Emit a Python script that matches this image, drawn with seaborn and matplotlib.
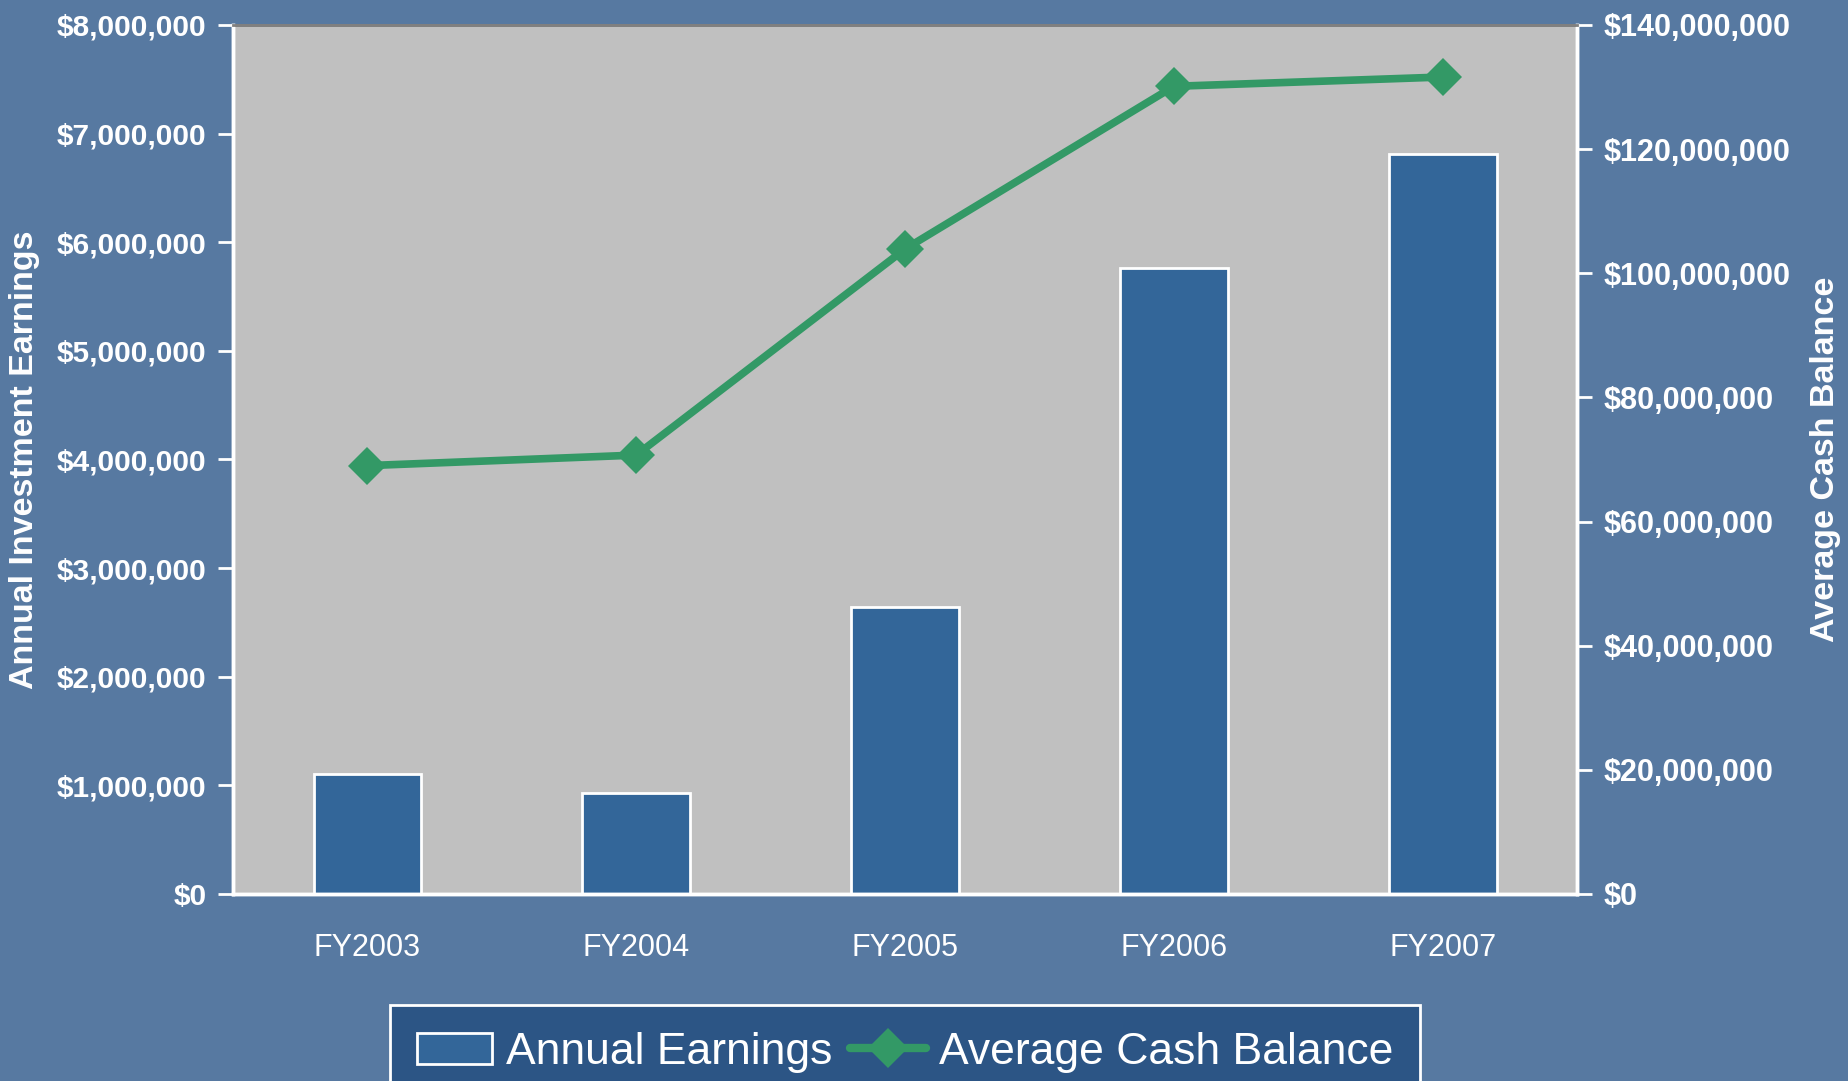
import matplotlib
matplotlib.use("Agg")
import matplotlib.pyplot as plt
import matplotlib.ticker as mticker
from matplotlib.lines import Line2D
from matplotlib.patches import Patch
import seaborn as sns
import pandas as pd

# === Data ===
years = ["FY2003", "FY2004", "FY2005", "FY2006", "FY2007"]
annual_earnings = [1100000, 925000, 2640000, 5760000, 6810000]
avg_cash_balance = [69000000, 70700000, 103900000, 130100000, 131600000]

df = pd.DataFrame({"year": years, "earnings": annual_earnings, "cash": avg_cash_balance})

# === Colours ===
bg = "#5779a1"
plot_bg = "#c0c0c0"
bar_blue = "#336699"
line_green = "#339966"
legend_bg = "#2c5585"

sns.set_theme(style="white")
plt.rcParams["font.family"] = ["Liberation Sans", "DejaVu Sans"]

fig = plt.figure(figsize=(18.49, 10.81), dpi=100, facecolor=bg)
ax = fig.add_axes([0.126, 0.173, 0.727, 0.804])
ax.set_facecolor(plot_bg)

sns.barplot(data=df, x="year", y="earnings", ax=ax, color=bar_blue,
            saturation=1, width=0.4, edgecolor="white", linewidth=2)

ax2 = ax.twinx()
sns.lineplot(data=df, x="year", y="cash", ax=ax2, color=line_green,
             linewidth=5.5, marker="D", markersize=19, markeredgewidth=0)

# === Axes ===
ax.set_xlim(-0.5, 4.5)
ax.set_ylim(0, 8000000)
ax2.set_ylim(0, 140000000)
ax.yaxis.set_major_locator(mticker.MultipleLocator(1000000))
ax2.yaxis.set_major_locator(mticker.MultipleLocator(20000000))
fmt = mticker.FuncFormatter(lambda v, p: f"${v:,.0f}")
ax.yaxis.set_major_formatter(fmt)
ax2.yaxis.set_major_formatter(fmt)

ax.set_xticks([i - 0.5 for i in range(len(years) + 1)], minor=False)
ax.set_xticklabels([])
ax.set_xticks(range(len(years)), minor=True)
ax.set_xticklabels(years, minor=True)
ax.tick_params(axis="x", which="major", direction="inout", length=22, width=2, colors="white")
ax.tick_params(axis="x", which="minor", length=0, pad=28, labelsize=22, labelcolor="white")

ax.tick_params(axis="y", direction="out", length=11, width=2, colors="white",
               labelsize=21.5, pad=8, left=True)
ax2.tick_params(axis="y", direction="out", length=11, width=2, colors="white",
                labelsize=22, pad=8, right=True)
for lab in ax.get_yticklabels() + ax2.get_yticklabels():
    lab.set_fontweight("bold")

ax.set_xlabel("")
ax.set_ylabel("Annual Investment Earnings", color="white", fontsize=24.5,
              fontweight="bold", labelpad=12)
ax2.set_ylabel("Average Cash Balance", color="white", fontsize=24.5,
               fontweight="bold", labelpad=14)

for a in (ax, ax2):
    for side in ("left", "right", "bottom"):
        a.spines[side].set_color("white")
        a.spines[side].set_linewidth(2.5)
    a.spines["top"].set_color("#808080")
    a.spines["top"].set_linewidth(2)
ax.grid(False)
ax2.grid(False)

# === Legend (runs off the bottom edge, as in the original slide) ===
handles = [
    Patch(facecolor=bar_blue, edgecolor="white", linewidth=2, label="Annual Earnings"),
    Line2D([0], [0], color=line_green, linewidth=6, marker="D", markersize=20,
           markeredgewidth=0, label="Average Cash Balance"),
]
leg = fig.legend(handles=handles, loc="upper center", bbox_to_anchor=(0.4895, 0.07),
                 ncol=2, frameon=True, handlelength=1.7, handleheight=0.7,
                 columnspacing=0.4, handletextpad=0.3, borderpad=0.6, borderaxespad=0,
                 fancybox=False, prop={"family": ["Liberation Sans"], "size": 32})
leg.get_frame().set_facecolor(legend_bg)
leg.get_frame().set_edgecolor("white")
leg.get_frame().set_linewidth(2)
leg.get_frame().set_alpha(1)
for t in leg.get_texts():
    t.set_color("white")

fig.savefig("out.png", dpi=100, facecolor=bg)
